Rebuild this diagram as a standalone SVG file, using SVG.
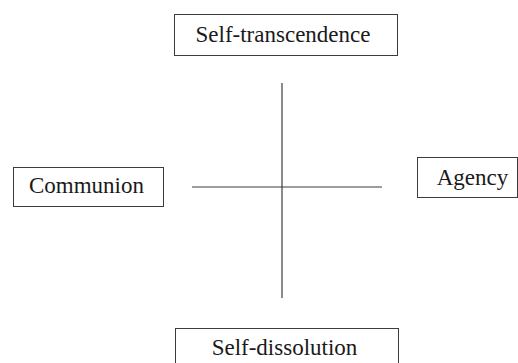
<svg xmlns="http://www.w3.org/2000/svg" width="518" height="363" viewBox="0 0 518 363">
  <style>
    .box { fill: #ffffff; stroke: #3c3c3c; stroke-width: 1; }
    .label { font-size: 23px; fill: #1a1a1a; text-anchor: middle; }
    .axis { stroke: #3c3c3c; stroke-width: 1.2; fill: none; }
  </style>
  <rect width="518" height="363" fill="#ffffff"/>
  <g id="connectors">
    <line class="axis" x1="282" y1="83" x2="282" y2="298"/>
    <line class="axis" x1="192" y1="187" x2="382" y2="187"/>
  </g>
  <g font-family="Liberation Serif, Times New Roman, DejaVu Serif, serif">
    <g id="self-transcendence">
      <rect class="box" x="174.5" y="14.5" width="223" height="41"/>
      <text class="label" x="283" y="42">Self-transcendence</text>
    </g>
    <g id="communion">
      <rect class="box" x="13.5" y="167.5" width="150" height="39"/>
      <text class="label" x="86.5" y="193">Communion</text>
    </g>
    <g id="agency">
      <rect class="box" x="417.5" y="157.5" width="100" height="40"/>
      <text class="label" x="472.5" y="185">Agency</text>
    </g>
    <g id="self-dissolution">
      <rect class="box" x="175.5" y="328.5" width="223" height="40"/>
      <text class="label" x="284.5" y="355">Self-dissolution</text>
    </g>
  </g>
</svg>
